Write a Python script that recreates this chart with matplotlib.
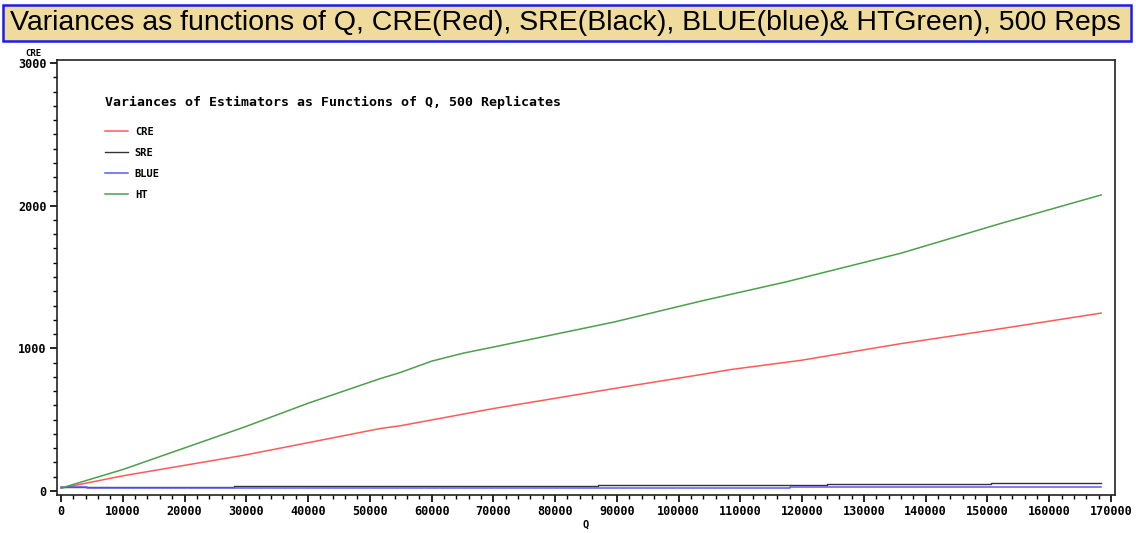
# Variances of estimators as functions of Q (SAS-style plot)
import numpy as np
import matplotlib
matplotlib.use("Agg")
import matplotlib.pyplot as plt
from matplotlib.patches import Rectangle
from matplotlib.ticker import MultipleLocator

# values
q_ht = [0, 10100, 29800, 40000, 51700, 54900, 60000, 65000, 70000, 89500,
        103600, 108400, 117600, 136000, 152200, 168400]
var_ht = [20, 152, 450, 615, 788, 830, 910, 965, 1009, 1184,
          1331, 1378, 1468, 1667, 1876, 2075]

q_cre = [0, 10100, 29800, 51700, 54900, 70000, 89500, 103600, 108400,
         119800, 136000, 152200, 168400]
var_cre = [20, 107, 252, 438, 457, 578, 718, 816, 851,
           916, 1033, 1138, 1247]

q_sre = [0, 28000, 55600, 87000, 109000, 124000, 150600, 168400]
var_sre = [28, 33, 37, 40, 44, 49, 54, 54]

q_blue = [0, 4200, 118000, 168400]
var_blue = [25, 19, 26, 26]

title_text = "Variances as functions of Q, CRE(Red), SRE(Black), BLUE(blue)& HTGreen), 500 Reps"
legend_title = "Variances of Estimators as Functions of Q, 500 Replicates"

W, H = 1136, 533
fig = plt.figure(figsize=(W / 100, H / 100), dpi=100)

# title banner
fig.patches.append(Rectangle((3 / W, 1 - 41 / H), 1128 / W, 36 / H, transform=fig.transFigure,
                             facecolor='#efdb9c', edgecolor='#1c1cf0', linewidth=1.8))
fig.text(10 / W, 1 - 23 / H, title_text, ha='left', va='center', fontsize=20.5,
         family='Liberation Sans', color='black')

ax = fig.add_axes([57 / W, 1 - 495 / H, 1058 / W, 435 / H])

mono = dict(family='DejaVu Sans Mono', weight='bold')

ax.plot(q_cre, var_cre, color='#ff5a5a', lw=1.1, label='CRE')
ax.plot(q_sre, var_sre, color='#333333', lw=1.0, drawstyle='steps-post', label='SRE')
ax.plot(q_blue, var_blue, color='#5a5aff', lw=1.1, drawstyle='steps-post', label='BLUE')
ax.plot(q_ht, var_ht, color='#4e9e4e', lw=1.1, label='HT')

ax.set_xlim(-648, 170648)
ax.set_ylim(-28, 3021)
ax.xaxis.set_major_locator(MultipleLocator(10000))
ax.xaxis.set_minor_locator(MultipleLocator(2000))
ax.yaxis.set_major_locator(MultipleLocator(1000))
ax.yaxis.set_minor_locator(MultipleLocator(100))
ax.tick_params(which='major', direction='out', length=5, width=1.2, labelsize=8.5, pad=2.5)
ax.tick_params(which='minor', direction='out', length=3, width=1.0)
for lab in ax.get_xticklabels() + ax.get_yticklabels():
    lab.set_fontfamily('DejaVu Sans Mono')
    lab.set_fontweight('bold')

for sp in ax.spines.values():
    sp.set_linewidth(1.2)
    sp.set_color('#222222')

ax.set_xlabel('Q', fontsize=7.5, labelpad=1, **mono)
fig.text(33 / W, 1 - 53 / H, 'CRE', ha='center', va='center', fontsize=6.5, **mono)

leg = ax.legend(title=legend_title, loc='upper left', bbox_to_anchor=(0.045, 0.918),
                frameon=False, alignment='left', prop=dict(size=7.5, **mono),
                title_fontproperties=dict(size=9.5, **mono),
                handlelength=2.2, handletextpad=0.7, labelspacing=1.05,
                borderpad=0, borderaxespad=0)
leg._legend_box.sep = 13

fig.savefig('out.png', dpi=100)
